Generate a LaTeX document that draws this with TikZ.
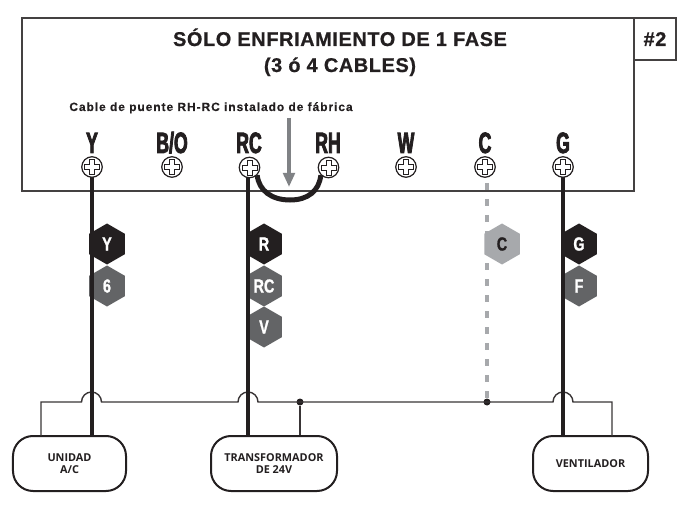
\documentclass[tikz,border=0pt]{standalone}
\usepackage{fontspec}
\setmainfont{Liberation Sans}
\newfontfamily\termfont[FakeStretch=0.6,FakeBold=2.8]{Liberation Sans Bold}
\newfontfamily\hexfont[FakeStretch=0.76,FakeBold=1.2]{Liberation Sans Bold}
\newfontfamily\titlefont[LetterSpace=3,FakeBold=0.7]{Liberation Sans Bold}
\newfontfamily\notefont[LetterSpace=8,FakeBold=0.4]{Liberation Sans Bold}
\newfontfamily\boxfont{Open Sans Bold}
\usetikzlibrary{shapes.geometric,arrows.meta}
\definecolor{ink}{HTML}{231F20}
\definecolor{midgray}{HTML}{636466}
\definecolor{lightgray}{HTML}{A7A9AC}
\definecolor{arrowgray}{HTML}{808285}
\tikzset{
  frameline/.style={draw=ink!85!white,line width=1.6bp,inner sep=0},
  term/.style={anchor=base,text=ink,font=\termfont\fontsize{29.5}{29.5}\selectfont,inner sep=0},
  screwbody/.style={circle,draw=ink,fill=white,line width=1.2bp,minimum size=20.5bp,inner sep=0},
  crossline/.style={draw=ink,line width=0.5bp},
  hexbase/.style={regular polygon,regular polygon sides=6,shape border rotate=30,minimum size=41bp,inner sep=0,font=\hexfont\fontsize{19}{19}\selectfont},
  hexdark/.style={hexbase,fill=ink,text=white},
  hexmid/.style={hexbase,fill=midgray,text=white},
  hexlight/.style={hexbase,fill=lightgray,text=ink},
  wire/.style={draw=ink,line width=4.4bp},
  dashwire/.style={draw=lightgray,line width=4.6bp,dash pattern=on 7bp off 9bp},
  thinwire/.style={draw=ink!90!white,line width=1.4bp},
  unitbox/.style={draw=ink,fill=white,line width=2bp,rounded corners=20bp,minimum height=55bp,align=center,text=ink,font=\boxfont\fontsize{10.9}{12.5}\selectfont,inner sep=0},
  dot/.style={circle,fill=ink,minimum size=7bp,inner sep=0}
}
\newcommand{\screwat}[3]{%
  \node[screwbody] (#1) at (#2,#3) {};
  \draw[crossline] ([shift={(-2.4bp,-2.4bp)}]#1.center) -- ++(-5.2bp,0) -- ++(0,4.8bp) -- ++(5.2bp,0) -- ++(0,5.2bp) -- ++(4.8bp,0) -- ++(0,-5.2bp) -- ++(5.2bp,0) -- ++(0,-4.8bp) -- ++(-5.2bp,0) -- ++(0,-5.2bp) -- ++(-4.8bp,0) -- cycle;
}
\begin{document}
\begin{tikzpicture}[x=1bp,y=-1bp]
\useasboundingbox (0,0) rectangle (682,507);
% frame
\node[frameline,minimum width=612bp,minimum height=173bp] (frame) at (328,104.5) {};
\node[frameline,minimum width=42bp,minimum height=42bp,font=\titlefont\fontsize{20}{20}\selectfont,text=ink] (tag) at (655,39) {\#2};
% titles
\node[anchor=base,inner sep=0,text=ink,font=\titlefont\fontsize{20}{20}\selectfont] (t1) at (340,46) {SÓLO ENFRIAMIENTO DE 1 FASE};
\node[anchor=base,inner sep=0,text=ink,font=\titlefont\fontsize{20}{20}\selectfont] (t2) at (340,72) {(3 ó 4 CABLES)};
\node[anchor=base,inner sep=0,text=ink,font=\notefont\fontsize{12}{12}\selectfont] (t3) at (211,111) {Cable de puente RH-RC instalado de fábrica};
% terminal letters
\node[term] (lY) at (92,153) {Y};
\node[term] (lBO) at (172,153) {B/O};
\node[term] (lRC) at (249,153) {RC};
\node[term] (lRH) at (328,153) {RH};
\node[term] (lW) at (406,153) {W};
\node[term] (lC) at (485,153) {C};
\node[term] (lG) at (563,153) {G};
% boxes
\node[unitbox,minimum width=113bp] (boxA) at (69.5,463.5) {UNIDAD\\A/C};
\node[unitbox,minimum width=126bp] (boxT) at (274,463.5) {TRANSFORMADOR\\DE 24V};
\node[unitbox,minimum width=115bp] (boxV) at (590.5,463.5) {VENTILADOR};
% hexes
\node[hexdark] (hY) at (107,244) {Y};
\node[hexmid] (h6) at (107,286) {6};
\node[hexdark] (hR) at (264,244) {R};
\node[hexmid] (hRC) at (264,286) {RC};
\node[hexmid] (hV) at (264,327) {V};
\node[hexlight] (hC) at (502,244) {C};
\node[hexdark] (hG) at (579,244) {G};
\node[hexmid] (hF) at (579,286) {F};
% coordinates of the wires
\coordinate (wY) at (92,167);
\coordinate (wR) at (248,167);
\coordinate (wC) at (487,183);
\coordinate (wG) at (563,167);
\coordinate (la) at (41,436);
\coordinate (lb) at (612,436);
% thin line with bumps
\node[dot] (d1) at (300,402) {};
\node[dot] (d2) at (487,402) {};
\draw[thinwire] (la) |- (81.5,402) arc[start angle=180,end angle=360,radius=10] -- (238,402) arc[start angle=180,end angle=360,radius=10] -- (553,402) arc[start angle=180,end angle=360,radius=10] -- (612,402) -- (lb);
\draw[thinwire] (d1) -- (d1 |- boxT.north);
% thick wires
\draw[wire] (wY) -- (wY |- boxA.north);
\draw[wire] (wR) -- (wR |- boxT.north);
\draw[wire] (wG) -- (wG |- boxV.north);
\draw[dashwire] (wC) -- (d2);
% screws
\screwat{sY}{92}{167}
\screwat{sBO}{172}{167}
\screwat{sRC}{249.5}{167.5}
\screwat{sRH}{328.5}{167.5}
\screwat{sW}{406}{167}
\screwat{sC}{485}{167}
\screwat{sG}{563}{167}
% jumper
\draw[draw=ink,line width=5bp] (sRC.-45) .. controls (259,191) and (272,200) .. (290,200) .. controls (308,200) and (319,191) .. (sRH.-135);
% arrow
\coordinate (a1) at (289,118);
\coordinate (a2) at (289,187);
\draw[draw=arrowgray,line width=3.4bp,-{Triangle[length=14bp,width=11.5bp]}] (a1) -- (a2);
\end{tikzpicture}
\end{document}
